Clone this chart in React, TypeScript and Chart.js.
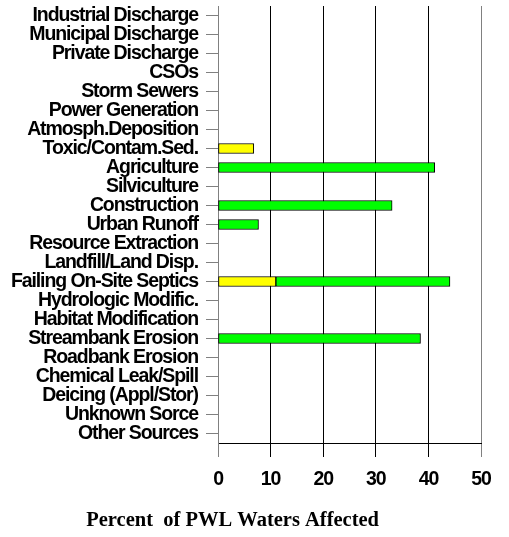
import React, { useEffect, useRef } from "react";
import { Chart, registerables } from "chart.js";

Chart.register(...registerables);

const categories = [
  "Industrial Discharge",
  "Municipal Discharge",
  "Private Discharge",
  "CSOs",
  "Storm Sewers",
  "Power Generation",
  "Atmosph.Deposition",
  "Toxic/Contam.Sed.",
  "Agriculture",
  "Silviculture",
  "Construction",
  "Urban Runoff",
  "Resource Extraction",
  "Landfill/Land Disp.",
  "Failing On-Site Septics",
  "Hydrologic Modific.",
  "Habitat Modification",
  "Streambank Erosion",
  "Roadbank Erosion",
  "Chemical Leak/Spill",
  "Deicing (Appl/Stor)",
  "Unknown Sorce",
  "Other Sources",
];

const yellowValues = [0, 0, 0, 0, 0, 0, 0, 6.8, 0, 0, 0, 0, 0, 0, 11, 0, 0, 0, 0, 0, 0, 0, 0];
const greenValues = [0, 0, 0, 0, 0, 0, 0, 0, 41.2, 0, 33.1, 7.7, 0, 0, 33.1, 0, 0, 38.5, 0, 0, 0, 0, 0];

const xTicks = [0, 10, 20, 30, 40, 50];
const captionText = "Percent  of PWL Waters Affected";

const labelFamily = "'Liberation Sans', Arial, sans-serif";

const tightTextPlugin = {
  id: "tightText",
  beforeDraw(chart: any) {
    chart.ctx.letterSpacing = "-1.1px";
  },
};

const captionPlugin = {
  id: "bottomCaption",
  afterDraw(chart: any) {
    const ctx = chart.ctx;
    ctx.save();
    ctx.letterSpacing = "0px";
    ctx.font = "bold 20.5px 'Liberation Serif', 'Times New Roman', serif";
    ctx.fillStyle = "#000";
    ctx.textAlign = "center";
    ctx.textBaseline = "alphabetic";
    ctx.fillText(captionText, chart.width * 0.457, chart.height - 11);
    ctx.restore();
  },
};

export default function App() {
  const canvasRef = useRef<HTMLCanvasElement>(null);

  useEffect(() => {
    document.body.style.margin = "0";
    if (!canvasRef.current) return;
    const chart = new Chart(canvasRef.current, {
      type: "bar",
      data: {
        labels: categories,
        datasets: [
          {
            label: "Yellow",
            data: yellowValues,
            backgroundColor: "#ffff00",
            borderColor: "#000",
            borderWidth: 1,
            borderSkipped: false,
            barThickness: 10,
          },
          {
            label: "Green",
            data: greenValues,
            backgroundColor: "#00ff00",
            borderColor: "#000",
            borderWidth: 1,
            borderSkipped: false,
            barThickness: 10,
          },
        ],
      },
      options: {
        indexAxis: "y",
        animation: false,
        responsive: true,
        maintainAspectRatio: false,
        layout: { padding: { top: 6, right: 28, left: 0, bottom: 0 } },
        plugins: {
          legend: { display: false },
          tooltip: { enabled: false },
          title: { display: false },
        },
        scales: {
          x: {
            type: "linear",
            stacked: true,
            min: 0,
            max: 50,
            afterBuildTicks(scale: any) {
              scale.ticks = xTicks.map((v) => ({ value: v }));
            },
            afterFit(scale: any) {
              scale.height = 94;
              scale.paddingLeft = 0;
              scale.paddingRight = 0;
            },
            border: { display: true, color: "#000", width: 1 },
            grid: {
              display: true,
              drawOnChartArea: true,
              drawTicks: true,
              tickLength: 14,
              lineWidth: 1,
              color: (ctx: any) =>
                ctx.tick && (ctx.tick.value === 0 || ctx.tick.value === 50) ? "#808080" : "#000",
            },
            ticks: {
              color: "#000",
              padding: 11,
              font: { family: labelFamily, size: 19.5, weight: "bold" },
              maxRotation: 0,
            },
          },
          y: {
            type: "category",
            stacked: true,
            afterFit(scale: any) {
              scale.width = 218;
              scale.paddingTop = 0;
              scale.paddingBottom = 0;
            },
            border: { display: true, color: "#808080", width: 1 },
            grid: {
              display: true,
              offset: false,
              drawOnChartArea: false,
              drawTicks: true,
              tickLength: 12,
              color: "#808080",
            },
            ticks: {
              color: "#000",
              padding: 8,
              autoSkip: false,
              font: { family: labelFamily, size: 19.5, weight: "bold" },
            },
          },
        },
      },
      plugins: [tightTextPlugin, captionPlugin],
    } as any);
    return () => chart.destroy();
  }, []);

  return (
    <div style={{ width: 509, height: 537, position: "relative" }}>
      <canvas ref={canvasRef} />
    </div>
  );
}
